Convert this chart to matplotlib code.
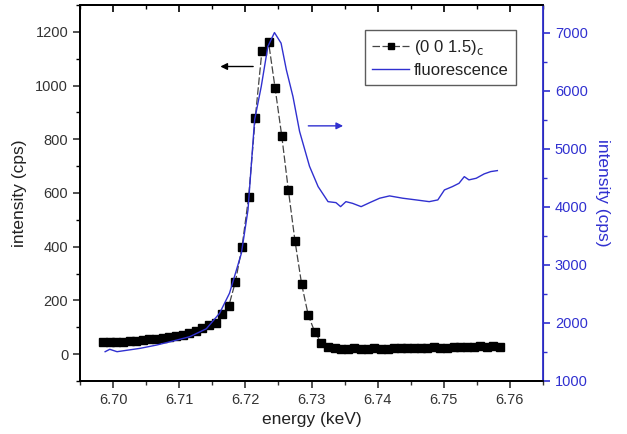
import matplotlib
matplotlib.use('Agg')
import matplotlib.pyplot as plt
from matplotlib.ticker import MultipleLocator

plt.rcParams['font.family'] = ['Liberation Sans', 'DejaVu Sans']

# (0 0 1.5)c reflection, left axis
energy = [6.6985, 6.6995, 6.7005, 6.7015, 6.7025, 6.7035, 6.7045, 6.7055, 6.7065, 6.7075,
          6.7085, 6.7095, 6.7105, 6.7115, 6.7125, 6.7135, 6.7145, 6.7155, 6.7165, 6.7175,
          6.7185, 6.7195, 6.7205, 6.7215, 6.7225, 6.7235, 6.7245, 6.7255, 6.7265, 6.7275,
          6.7285, 6.7295, 6.7305, 6.7315, 6.7325, 6.7335, 6.7345, 6.7355, 6.7365, 6.7375,
          6.7385, 6.7395, 6.7405, 6.7415, 6.7425, 6.7435, 6.7445, 6.7455, 6.7465, 6.7475,
          6.7485, 6.7495, 6.7505, 6.7515, 6.7525, 6.7535, 6.7545, 6.7555, 6.7565, 6.7575,
          6.7585]
refl = [45, 45, 46, 47, 48, 50, 52, 55, 58, 60,
        64, 68, 72, 78, 88, 98, 110, 117, 148, 180,
        270, 400, 586, 880, 1128, 1163, 990, 813, 611, 422,
        262, 146, 82, 42, 27, 22, 18, 20, 22, 21,
        19, 22, 20, 21, 23, 22, 23, 24, 22, 23,
        25, 24, 22, 25, 27, 25, 28, 30, 28, 29,
        27]

# fluorescence, right axis
fl_energy = [6.6988, 6.6995, 6.7006, 6.7041, 6.7066, 6.7091, 6.7116, 6.7141, 6.7161, 6.7176,
             6.7194, 6.7204, 6.7214, 6.7224, 6.7234, 6.7244, 6.7254, 6.7262, 6.7272, 6.7282,
             6.7297, 6.7310, 6.7325, 6.7337, 6.7344, 6.7352, 6.7362, 6.7375, 6.7388, 6.7403,
             6.7418, 6.7438, 6.7458, 6.7478, 6.7491, 6.7501, 6.7513, 6.7523, 6.7531, 6.7538,
             6.7549, 6.7561, 6.7571, 6.7581]
fluor = [1505, 1546, 1505, 1563, 1620, 1690, 1764, 1900, 2167, 2512,
         3200, 3950, 5500, 6074, 6764, 7005, 6822, 6362, 5900, 5300,
         4700, 4350, 4091, 4074, 4005, 4091, 4062, 4005, 4074, 4150,
         4190, 4150, 4121, 4091, 4121, 4293, 4350, 4407, 4522, 4466,
         4494, 4569, 4609, 4626]

blue = '#3030d0'

fig = plt.figure(figsize=(6.27, 4.34), dpi=100)
ax = fig.add_axes([80 / 627, 53 / 434, 463 / 627, 376 / 434])
ax2 = ax.twinx()

l1, = ax.plot(energy, refl, color='#444444', linestyle='--', dashes=(6, 2), linewidth=0.9,
              marker='s', markersize=5.5, markerfacecolor='black', markeredgecolor='black')
l2, = ax2.plot(fl_energy, fluor, color=blue, linewidth=1.0)

ax.set_xlim(6.695, 6.765)
ax.set_ylim(-100, 1300)
ax2.set_ylim(1000, 7480)

ax.xaxis.set_major_locator(MultipleLocator(0.01))
ax.xaxis.set_minor_locator(MultipleLocator(0.005))
ax.yaxis.set_major_locator(MultipleLocator(200))
ax.yaxis.set_minor_locator(MultipleLocator(100))
ax2.yaxis.set_major_locator(MultipleLocator(1000))
ax2.yaxis.set_minor_locator(MultipleLocator(500))
ax.xaxis.set_major_formatter(plt.FormatStrFormatter('%.2f'))

ax.tick_params(axis='x', which='both', direction='out', labelsize=10.5, colors='#333333')
ax.tick_params(axis='x', which='major', length=5, width=1.2)
ax.tick_params(axis='x', which='minor', length=3, width=1.0)
ax.tick_params(axis='y', which='major', direction='out', length=5, width=1.2, labelsize=10.5, colors='#333333')
ax.tick_params(axis='y', which='minor', direction='out', length=3, width=1.0)

# top axis: ticks pointing into the plot, no labels
top = ax.secondary_xaxis('top')
top.xaxis.set_major_locator(MultipleLocator(0.01))
top.xaxis.set_minor_locator(MultipleLocator(0.005))
top.tick_params(axis='x', which='major', direction='in', length=5, width=1.2, labeltop=False)
top.tick_params(axis='x', which='minor', direction='in', length=3, width=1.0)
top.spines['top'].set_linewidth(1.3)

ax2.tick_params(axis='y', which='major', direction='out', length=5, width=1.2, labelsize=10.5, colors=blue)
ax2.tick_params(axis='y', which='minor', direction='out', length=3, width=1.0, colors=blue)
ax2.spines['right'].set_color(blue)
ax2.spines['right'].set_linewidth(1.3)
for s in ['left', 'bottom', 'top']:
    ax.spines[s].set_linewidth(1.3)
    ax2.spines[s].set_linewidth(1.3)

ax.set_xlabel('energy (keV)', fontsize=12.5, color='#222222', labelpad=4)
ax.set_ylabel('intensity (cps)', fontsize=12.5, color='#222222', labelpad=6)
ax2.set_ylabel('intensity (cps)', fontsize=12.5, color=blue, rotation=270, labelpad=16)

# direction arrows
ax.annotate('', xy=(6.7158, 1071), xytext=(6.7216, 1071),
            arrowprops=dict(arrowstyle='-|>', color='black', lw=1.0, mutation_scale=10))
ax.annotate('', xy=(6.7352, 850), xytext=(6.7291, 850),
            arrowprops=dict(arrowstyle='-|>', color=blue, lw=1.0, mutation_scale=10))

leg = ax.legend([l1, l2], ['(0 0 1.5)$_\\mathrm{c}$', 'fluorescence'],
                loc='upper right', bbox_to_anchor=(0.96, 0.955), fontsize=12,
                frameon=True, fancybox=False, edgecolor='#333333', handlelength=2.2,
                handletextpad=0.3, borderpad=0.45, labelspacing=0.35, markerscale=0.8)
leg.get_frame().set_linewidth(1.0)
for t in leg.get_texts():
    t.set_color('#222222')

plt.savefig('out.png', dpi=100)
